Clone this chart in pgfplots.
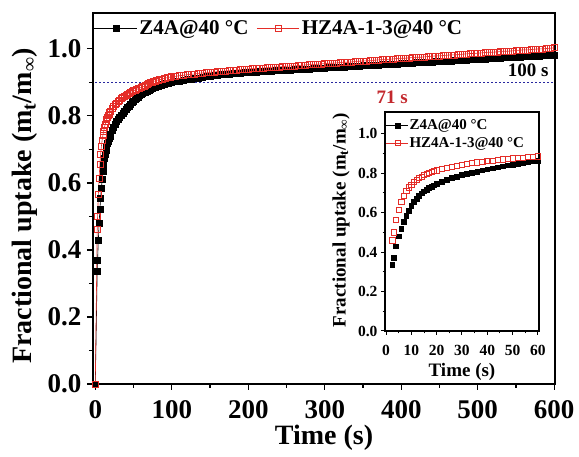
\documentclass[border=0pt]{standalone}
\usepackage{fontspec}
\setmainfont{Liberation Serif}
\usepackage{pgfplots}
\usepackage{pgfplotstable}
\pgfplotsset{compat=1.18}
\definecolor{myred}{RGB}{228,45,40}
\definecolor{txtred}{RGB}{195,40,45}
\definecolor{navyb}{RGB}{40,40,160}

\pgfplotstableread{
t z h
0 0 0
2.5 0.335 0.46
3 0.37 0.50
4 0.43 0.565
5 0.48 0.615
6 0.52 0.655
7 0.555 0.685
8 0.585 0.71
9 0.61 0.728
10 0.635 0.743
11 0.655 0.755
12 0.672 0.766
13 0.686 0.775
14 0.698 0.783
15 0.708 0.79
16 0.717 0.796
17 0.725 0.801
18 0.732 0.806
19 0.739 0.81
20 0.745 0.814
22 0.756 0.821
24 0.766 0.827
26 0.775 0.833
28 0.783 0.838
30 0.790 0.843
32 0.797 0.847
34 0.803 0.851
36 0.809 0.855
38 0.815 0.858
40 0.820 0.861
42 0.825 0.864
44 0.830 0.867
46 0.835 0.870
48 0.840 0.872
50 0.844 0.875
52 0.848 0.877
54 0.852 0.879
56 0.856 0.881
58 0.860 0.883
60 0.863 0.885
62 0.866 0.887
64 0.869 0.889
66 0.871 0.892
68 0.874 0.894
70 0.877 0.897
72 0.879 0.900
74 0.882 0.901
76 0.884 0.903
78 0.886 0.904
80 0.888 0.906
82 0.889 0.907
84 0.891 0.908
86 0.892 0.909
88 0.894 0.910
90 0.895 0.912
92 0.896 0.913
94 0.897 0.914
96 0.898 0.915
98 0.899 0.916
100 0.900 0.917
105 0.902 0.918
110 0.904 0.920
115 0.906 0.921
120 0.908 0.923
125 0.910 0.924
130 0.912 0.925
135 0.913 0.927
140 0.915 0.928
145 0.917 0.929
150 0.918 0.930
155 0.920 0.931
160 0.921 0.932
165 0.923 0.933
170 0.924 0.934
175 0.925 0.935
180 0.926 0.936
185 0.927 0.937
190 0.928 0.938
195 0.929 0.939
200 0.930 0.940
205 0.931 0.941
210 0.931 0.942
215 0.932 0.942
220 0.933 0.943
225 0.933 0.944
230 0.934 0.945
235 0.935 0.946
240 0.935 0.946
245 0.936 0.947
250 0.937 0.948
255 0.937 0.949
260 0.938 0.949
265 0.938 0.950
270 0.939 0.951
275 0.940 0.952
280 0.940 0.953
285 0.941 0.953
290 0.942 0.954
295 0.942 0.955
300 0.943 0.956
305 0.944 0.957
310 0.944 0.957
315 0.945 0.958
320 0.946 0.959
325 0.946 0.960
330 0.947 0.960
335 0.948 0.961
340 0.948 0.962
345 0.949 0.963
350 0.950 0.964
355 0.950 0.964
360 0.951 0.965
365 0.951 0.966
370 0.952 0.967
375 0.953 0.968
380 0.953 0.968
385 0.954 0.969
390 0.955 0.970
395 0.955 0.971
400 0.956 0.972
405 0.957 0.972
410 0.957 0.973
415 0.958 0.974
420 0.959 0.975
425 0.959 0.975
430 0.960 0.976
435 0.961 0.977
440 0.961 0.978
445 0.962 0.979
450 0.963 0.979
455 0.963 0.980
460 0.964 0.981
465 0.964 0.982
470 0.965 0.982
475 0.966 0.983
480 0.966 0.984
485 0.967 0.985
490 0.968 0.986
495 0.968 0.986
500 0.969 0.987
505 0.970 0.988
510 0.970 0.989
515 0.971 0.990
520 0.972 0.990
525 0.972 0.991
530 0.973 0.992
535 0.974 0.993
540 0.974 0.993
545 0.975 0.994
550 0.976 0.995
555 0.976 0.996
560 0.977 0.997
565 0.977 0.997
570 0.978 0.998
575 0.979 0.999
580 0.979 1.000
585 0.980 1.000
590 0.981 1.001
595 0.981 1.002
600 0.982 1.003
}\data

\begin{document}
\begin{tikzpicture}
\useasboundingbox (-93pt,-73pt) rectangle (486pt,384pt);
\begin{axis}[
  at={(0pt,0pt)}, anchor=south west,
  scale only axis, width=462pt, height=371pt,
  xmin=-3, xmax=601, ymin=0, ymax=1.107,
  axis line style={line width=1.4pt},
  xtick={0,100,...,600}, ytick={0,0.2,...,1.0},
  minor x tick num=1, minor y tick num=1,
  xtick pos=left, ytick pos=left,
  tick align=outside,
  major tick length=6pt, minor tick length=4pt,
  every tick/.style={line width=1.2pt, black},
  /pgf/number format/assume math mode=true,
  tick label style={font=\bfseries\fontsize{27}{29}\selectfont},
  xticklabel style={anchor=center, yshift=-20pt},
  yticklabel style={xshift=-2pt, /pgf/number format/.cd, fixed, fixed zerofill, precision=1},
  xlabel={Time (s)},
  ylabel={Fractional uptake (m\textsubscript{t}/m\textsubscript{∞})},
  xlabel style={font=\bfseries\fontsize{28}{30}\selectfont, at={(axis description cs:0.5,0)}, anchor=center, yshift=-54pt},
  ylabel style={font=\bfseries\fontsize{28}{30}\selectfont, at={(axis description cs:-0.147,0.48)}, anchor=center},
  legend style={at={(axis description cs:0.0,0.99)}, anchor=north west, draw=none, fill=none,
    font=\bfseries\fontsize{21}{23}\selectfont, legend columns=2, inner xsep=1pt,
    nodes={inner xsep=2pt},
    /tikz/every even column/.append style={column sep=6pt}},
  legend image code/.code={\draw[mark repeat=2,mark phase=2] plot coordinates {(0cm,0cm) (0.75cm,0cm) (1.5cm,0cm)};},
]
\addplot[black, line width=0.6pt, mark=square*, mark size=3pt] table[x=t,y=z] {\data};
\addlegendentry{Z4A@40 °C}
\addplot[myred, line width=0.6pt, mark=square, mark size=3pt, mark options={line width=0.7pt}] table[x=t,y=h] {\data};
\addlegendentry{HZ4A-1-3@40 °C}
\addplot[navyb, line width=1.2pt, dash pattern=on 2pt off 2pt, forget plot] coordinates {(0,0.9) (600,0.9)};
\node[font=\bfseries\fontsize{19}{21}\selectfont, anchor=east] at (axis cs:597,0.935) {100 s};
\node[font=\bfseries\fontsize{19}{21}\selectfont, text=txtred] at (axis cs:388,0.854) {71 s};
\end{axis}

\begin{axis}[
  at={(292pt,53pt)}, anchor=south west,
  scale only axis, width=154pt, height=219pt,
  xmin=-0.4, xmax=60.4, ymin=0, ymax=1.11,
  axis background/.style={fill=white},
  axis line style={line width=1.1pt},
  xtick={0,10,...,60}, ytick={0,0.2,...,1.0},
  minor x tick num=1, minor y tick num=1,
  xtick pos=left, ytick pos=left,
  tick align=outside,
  major tick length=4pt, minor tick length=2.5pt,
  every tick/.style={line width=1pt, black},
  /pgf/number format/assume math mode=true,
  tick label style={font=\bfseries\fontsize{15.5}{17}\selectfont},
  xticklabel style={anchor=center, yshift=-15pt},
  yticklabel style={/pgf/number format/.cd, fixed, fixed zerofill, precision=1},
  xlabel={Time (s)},
  ylabel={Fractional uptake (m\textsubscript{t}/m\textsubscript{∞})},
  xlabel style={font=\bfseries\fontsize{19}{21}\selectfont, at={(axis description cs:0.5,0)}, anchor=center, yshift=-41pt},
  ylabel style={font=\bfseries\fontsize{19}{21}\selectfont, at={(axis description cs:-0.286,0.507)}, anchor=center},
  legend style={at={(axis description cs:0.0,0.97)}, anchor=north west, draw=none, fill=none,
    font=\bfseries\fontsize{15}{16}\selectfont, row sep=4pt, inner xsep=1pt, inner ysep=0pt,
    nodes={inner xsep=1.5pt, inner ysep=1pt},
    legend cell align=left},
  legend image code/.code={\draw (0cm,0cm) -- (0.75cm,0cm); \draw plot coordinates {(0.4cm,0cm)};},
]
\addplot[black, line width=0.5pt, only marks, mark=square*, mark size=2.4pt, skip coords between index={0}{1}, restrict x to domain=0:61] table[x=t,y=z] {\data};
\addlegendentry{Z4A@40 °C}
\addplot[myred, line width=0.5pt, only marks, mark=square, mark size=2.6pt, mark options={line width=0.6pt}, skip coords between index={0}{1}, restrict x to domain=0:61] table[x=t,y=h] {\data};
\addlegendentry{HZ4A-1-3@40 °C}
\end{axis}
\end{tikzpicture}
\end{document}
